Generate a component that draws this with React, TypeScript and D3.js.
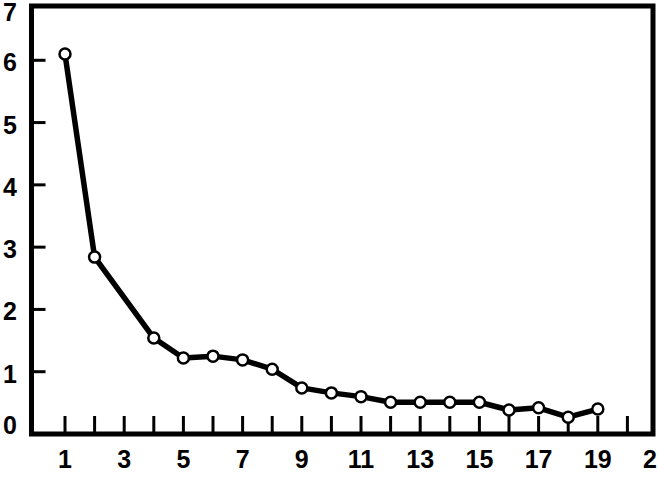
import React from "react";
import * as d3 from "d3";

const xValues = [1, 2, 4, 5, 6, 7, 8, 9, 10, 11, 12, 13, 14, 15, 16, 17, 18, 19];
const yValues = [6.1, 2.84, 1.54, 1.22, 1.25, 1.19, 1.04, 0.74, 0.66, 0.6, 0.51, 0.51, 0.51, 0.51, 0.385, 0.42, 0.27, 0.4];
const xTickMarks = d3.range(1, 21);
const xTickLabels = [1, 3, 5, 7, 9, 11, 13, 15, 17, 19, 21];
const yTickMarks = [1, 2, 3, 4, 5, 6];
const yTickLabels = [0, 1, 2, 3, 4, 5, 6, 7];

const W = 658;
const H = 484;
const frame = { left: 31.5, right: 653, top: 6, bottom: 434 };

export default function App() {
  const x = d3.scaleLinear().domain([0, 21]).range([35.4, 657]);
  const y = d3.scaleLinear().domain([0, 7]).range([434, -2]);
  const data = xValues.map((v, i) => [v, yValues[i]] as [number, number]);
  const line = d3
    .line<[number, number]>()
    .x((d) => x(d[0]))
    .y((d) => y(d[1]));
  const font = "'Liberation Sans', Arial, sans-serif";
  return (
    <svg
      width={W}
      height={H}
      style={{ position: "absolute", left: 0, top: 0, background: "#fff" }}
    >
      <rect x={0} y={0} width={W} height={H} fill="#fff" />
      {/* frame */}
      <path
        d={`M${frame.left},${frame.bottom}V${frame.top}H${frame.right}V${frame.bottom}Z`}
        fill="none"
        stroke="#000"
        strokeWidth={5}
        strokeLinejoin="miter"
      />
      {/* y ticks */}
      {yTickMarks.map((v) => (
        <line
          key={"yt" + v}
          x1={frame.left}
          x2={frame.left + 14}
          y1={y(v)}
          y2={y(v)}
          stroke="#000"
          strokeWidth={3}
        />
      ))}
      {/* x ticks */}
      {xTickMarks.map((v) => (
        <line
          key={"xt" + v}
          x1={x(v)}
          x2={x(v)}
          y1={frame.bottom}
          y2={frame.bottom - 18}
          stroke="#000"
          strokeWidth={3}
        />
      ))}
      {/* y labels */}
      {yTickLabels.map((v) => (
        <text
          key={"yl" + v}
          x={10}
          y={Math.min(Math.max(y(v) + 2, 12), 425)}
          textAnchor="middle"
          dominantBaseline="central"
          fontFamily={font}
          fontWeight="bold"
          fontSize={25}
          fill="#000"
        >
          {v}
        </text>
      ))}
      {/* x labels */}
      {xTickLabels.map((v) => (
        <text
          key={"xl" + v}
          x={x(v)}
          y={459}
          textAnchor="middle"
          dominantBaseline="central"
          fontFamily={font}
          fontWeight="bold"
          fontSize={25}
          fill="#000"
        >
          {v}
        </text>
      ))}
      {/* series */}
      <path
        d={line(data) || ""}
        fill="none"
        stroke="#000"
        strokeWidth={5.5}
        strokeLinejoin="round"
        strokeLinecap="round"
      />
      {data.map((d, i) => (
        <circle
          key={"c" + i}
          cx={x(d[0])}
          cy={y(d[1])}
          r={5.5}
          fill="#fff"
          stroke="#000"
          strokeWidth={2.5}
        />
      ))}
    </svg>
  );
}
